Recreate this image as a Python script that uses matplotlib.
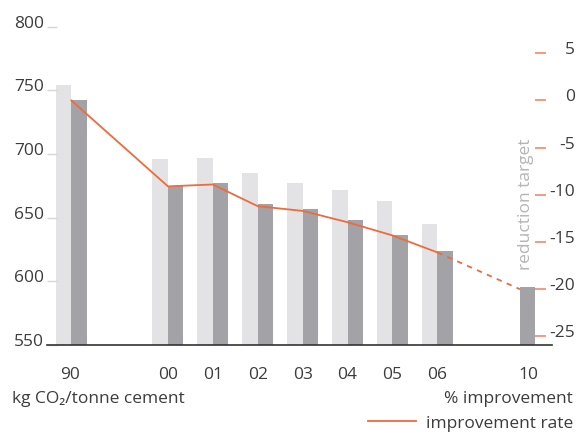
import matplotlib
matplotlib.use("Agg")
import matplotlib.pyplot as plt
from matplotlib.lines import Line2D

plt.rcParams["font.family"] = ["Open Sans", "DejaVu Sans"]
plt.rcParams["axes.unicode_minus"] = False

# Data
years = ["90", "00", "01", "02", "03", "04", "05", "06", "10"]
gross = [754, 696, 697, 685, 677, 672, 663, 645, None]
net = [742, 675, 677, 661, 657, 648, 636, 624, 595]
improvement = [0, -9.1, -8.9, -11.2, -11.7, -12.9, -14.3, -16.1, -20]
left_ticks = [550, 600, 650, 700, 750, 800]
right_ticks = [5, 0, -5, -10, -15, -20, -25]

# Layout: slot positions along the x axis
slots = [-2.15, 0, 1, 2, 3, 4, 5, 6, 7.84]
label_pos = [-2.18, 0, 1, 2, 3, 4, 5, 6, 8.02]
bw = 0.345
base = 742.0

LIGHT = "#e3e3e5"
DARK = "#a3a2a7"
ORANGE = "#f06a3c"
TXT = "#3c3c3c"
FS = 12.5

fig = plt.figure(figsize=(5.79, 4.35), dpi=100)
ax = fig.add_axes([46.7 / 579, 1 - 345.7 / 435, (551.7 - 46.7) / 579, (345.7 - 27.7) / 435])

for i, x in enumerate(slots):
    if gross[i] is not None:
        ax.bar(x - bw / 2, gross[i] - 550, bw, bottom=550, color=LIGHT, linewidth=0, zorder=1)
    ax.bar(x + bw / 2, net[i] - 550, bw, bottom=550, color=DARK, linewidth=0, zorder=2)

ax.set_xlim(-2.70, 8.546)
ax.set_ylim(550, 800)
for s in ["top", "right", "left"]:
    ax.spines[s].set_visible(False)
ax.spines["bottom"].set_color("#333333")
ax.spines["bottom"].set_linewidth(1.2)
ax.spines["bottom"].set_zorder(5)

ax.set_yticks(left_ticks)
ax.set_yticklabels([str(t) for t in left_ticks])
ax.tick_params(axis="y", direction="in", length=7, width=1.0, color="#d6d6d6",
               pad=2, labelsize=FS, labelcolor=TXT)
for lbl in ax.get_yticklabels():
    lbl.set_va("baseline")

ax.set_xticks(label_pos)
ax.set_xticklabels(years)
ax.tick_params(axis="x", length=0, pad=15, labelsize=FS, labelcolor=TXT)

# Right axis: percentage change relative to the 1990 level
ax2 = ax.twinx()
ax2.set_ylim((550 / base - 1) * 100, (800 / base - 1) * 100)
for s in ["top", "left", "bottom", "right"]:
    ax2.spines[s].set_visible(False)
ax2.spines["right"].set_position(("axes", (546 - 46.7) / (551.7 - 46.7)))
ax2.set_yticks(right_ticks)
ax2.set_yticklabels([str(t) for t in right_ticks])
ax2.tick_params(axis="y", direction="in", length=8, width=1.2, color="#f4876a",
                pad=21, labelsize=FS, labelcolor=TXT)
for lbl in ax2.get_yticklabels():
    lbl.set_ha("right")
    lbl.set_va("baseline")
ax2.set_xlim(ax.get_xlim())

ax2.plot(slots[:-1], improvement[:-1], color=ORANGE, lw=1.3, zorder=6,
         solid_joinstyle="miter")
ax2.plot(slots[-2:], improvement[-2:], color=ORANGE, lw=1.3, ls=(0, (3, 3)), zorder=6)

ax2.text(slots[-1] + 0.13, -17.9, "reduction target", rotation=90, ha="center", va="bottom",
         color="#b4b4b6", fontsize=FS)

fig.text(12.5 / 579, 1 - 399 / 435, "kg CO\u2082/tonne cement", ha="left", va="center",
         color=TXT, fontsize=FS)
fig.text(572.5 / 579, 1 - 399 / 435, "% improvement", ha="right", va="center",
         color=TXT, fontsize=FS)

handle = Line2D([], [], color=ORANGE, lw=1.3)
fig.legend([handle], ["improvement rate"], loc="center right",
           bbox_to_anchor=(573.5 / 579, 1 - 424 / 435), frameon=False, fontsize=FS,
           handlelength=2.76, handletextpad=0.57, labelcolor=TXT, borderpad=0, borderaxespad=0)

fig.savefig("out.png", dpi=100)
